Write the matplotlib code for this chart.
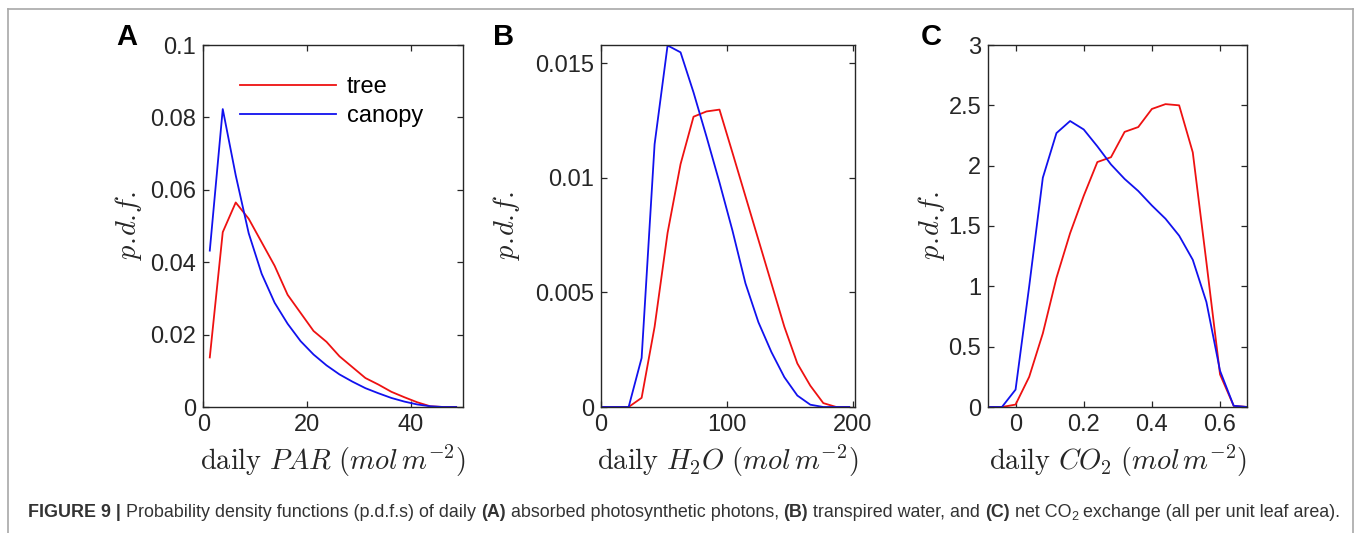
import numpy as np
import matplotlib
matplotlib.use("Agg")
import matplotlib.pyplot as plt
from matplotlib.lines import Line2D

plt.rcParams['font.family'] = ['Liberation Sans', 'DejaVu Sans']
plt.rcParams['mathtext.fontset'] = 'cm'

# ~~ panel A: daily PAR ~~
par_x = [1.25, 3.75, 6.25, 8.75, 11.25, 13.75, 16.25, 18.75, 21.25, 23.75,
         26.25, 28.75, 31.25, 33.75, 36.25, 38.75, 41.25, 43.75, 46.25, 48.75]
par_tree = [0.0137, 0.0483, 0.0565, 0.0520, 0.0455, 0.0390, 0.0310, 0.0260, 0.0210, 0.0180,
            0.0140, 0.0110, 0.0080, 0.0062, 0.0042, 0.0027, 0.0013, 0.0002, 0.0, 0.0]
par_canopy = [0.0432, 0.0823, 0.0640, 0.0480, 0.0368, 0.0288, 0.0230, 0.0182, 0.0145, 0.0115,
              0.0090, 0.0070, 0.0052, 0.0038, 0.0025, 0.0015, 0.0007, 0.0002, 0.0, 0.0]

# ~~ panel B: daily H2O ~~
h2o_x = [1.5, 11.8, 22.1, 32.4, 42.7, 53.0, 63.3, 73.6, 83.9, 94.2,
         104.5, 114.8, 125.1, 135.4, 145.7, 156.0, 166.3, 176.6, 186.9, 197.2]
h2o_tree = [0.0, 0.0, 0.0, 0.0004, 0.0035, 0.0076, 0.0106, 0.01267, 0.0129, 0.01298,
            0.0111, 0.0092, 0.0073, 0.0054, 0.0035, 0.0019, 0.00093, 0.00017, 0.0, 0.0]
h2o_canopy = [0.0, 0.0, 0.0, 0.00214, 0.01147, 0.01578, 0.01548, 0.01373, 0.0118, 0.0098,
              0.0077, 0.0054, 0.0037, 0.0024, 0.0013, 0.0005, 0.0001, 0.0, 0.0, 0.0]

# ~~ panel C: daily CO2 ~~
co2_x = [-0.08, -0.04, 0.0, 0.04, 0.08, 0.12, 0.16, 0.20, 0.24, 0.28,
         0.32, 0.36, 0.40, 0.44, 0.48, 0.52, 0.56, 0.60, 0.64, 0.68]
co2_tree = [0.0, 0.0, 0.02, 0.25, 0.61, 1.07, 1.44, 1.75, 2.03, 2.07,
            2.28, 2.32, 2.47, 2.51, 2.50, 2.11, 1.20, 0.27, 0.01, 0.0]
co2_canopy = [0.0, 0.0, 0.144, 1.00, 1.90, 2.27, 2.37, 2.30, 2.16, 2.01,
              1.89, 1.79, 1.67, 1.56, 1.42, 1.22, 0.87, 0.30, 0.01, 0.0]

panels = [
    ("A", par_x, par_tree, par_canopy, (0, 50), (0, 0.1), [0, 20, 40],
     [0, 0.02, 0.04, 0.06, 0.08, 0.1], ['0', '0.02', '0.04', '0.06', '0.08', '0.1'],
     r'$\mathrm{daily}\ PAR\ (mol\,m^{-2})$', [203.3, 259.4], -0.228, (127, 37)),
    ("B", h2o_x, h2o_tree, h2o_canopy, (0, 202), (0, 0.0158), [0, 100, 200],
     [0, 0.005, 0.01, 0.015], ['0', '0.005', '0.01', '0.015'],
     r'$\mathrm{daily}\ H_2O\ (mol\,m^{-2})$', [600.8, 254.5], -0.31, (504, 37)),
    ("C", co2_x, co2_tree, co2_canopy, (-0.08, 0.68), (0, 3), [0, 0.2, 0.4, 0.6],
     [0, 0.5, 1, 1.5, 2, 2.5, 3], ['0', '0.5', '1', '1.5', '2', '2.5', '3'],
     r'$\mathrm{daily}\ CO_2\ (mol\,m^{-2})$', [988.3, 259.0], -0.16, (931, 37)),
]

W, H = 1355, 533
fig = plt.figure(figsize=(W / 100, H / 100), dpi=100)
dark = '#262626'

for (letter, x, tree, canopy, xl, yl, xt, yt, ytl, xlab, (left, width), ylx, (lx, ly)) in panels:
    ax = fig.add_axes([left / W, 126 / H, width / W, 362 / H])
    ax.plot(x, tree, color='#ee1111', lw=1.3, label='tree')
    ax.plot(x, canopy, color='#1111ee', lw=1.3, label='canopy')
    ax.set_xlim(*xl)
    ax.set_ylim(*yl)
    ax.set_xticks(xt)
    ax.set_xticklabels([('%g' % v) for v in xt])
    ax.set_yticks(yt)
    ax.set_yticklabels(ytl)
    ax.tick_params(direction='in', top=True, right=True, length=4.5, width=0.9,
                   labelsize=17, colors=dark, pad=5)
    for sp in ax.spines.values():
        sp.set_color(dark)
        sp.set_linewidth(1.0)
    ax.set_xlabel(xlab, fontsize=20.5, color=dark)
    ax.xaxis.set_label_coords(0.5, -0.1)
    ax.xaxis.label.set_va('top')
    ax.set_ylabel(r'$p.\!d.\!f.$', fontsize=20.5, color=dark)
    ax.yaxis.set_label_coords(ylx, 0.5)
    fig.text(lx / W, 1 - ly / H, letter, fontsize=21, fontweight='bold',
             ha='center', va='center', color='black')
    if letter == "A":
        ax.legend(loc='upper left', bbox_to_anchor=(0.14, 0.915), frameon=False,
                  fontsize=17, handlelength=4.1, handletextpad=0.45,
                  labelspacing=0.3, borderpad=0, borderaxespad=0)

# grey frame round the figure, open at the bottom
frame = '#a8a8a8'
fig.add_artist(Line2D([8 / W, 8 / W], [0, 1 - 9 / H], transform=fig.transFigure, color=frame, lw=1.2))
fig.add_artist(Line2D([8 / W, 1353 / W], [1 - 9 / H, 1 - 9 / H], transform=fig.transFigure, color=frame, lw=1.2))
fig.add_artist(Line2D([1353 / W, 1353 / W], [0, 1 - 9 / H], transform=fig.transFigure, color=frame, lw=1.2))

# caption, placed piece by piece
pieces = [("FIGURE 9 | ", True, 0), ("Probability density functions (p.d.f.s) of daily ", False, 0),
          ("(A)", True, 0), (" absorbed photosynthetic photons, ", False, 0),
          ("(B)", True, 0), (" transpired water, and ", False, 0),
          ("(C)", True, 0), (" net CO", False, 0), ("2", False, 1),
          (" exchange (all per unit leaf area).", False, 0)]


def draw_caption(size, x0, base):
    renderer = fig.canvas.get_renderer()
    x = x0
    made = []
    for txt, bold, sub in pieces:
        s = size * 0.7 if sub else size
        y = base + (3 if sub else 0)
        t = fig.text(x / W, 1 - y / H, txt, fontsize=s, color='#333333',
                     fontweight='bold' if bold else 'normal', va='baseline', ha='left')
        made.append(t)
        x += t.get_window_extent(renderer).width
    return made, x - x0


made, total = draw_caption(12, 28, 517)
scale = 1312 / total
for t in made:
    t.remove()
draw_caption(12 * scale, 28, 517)

fig.savefig("out.png", dpi=100)
